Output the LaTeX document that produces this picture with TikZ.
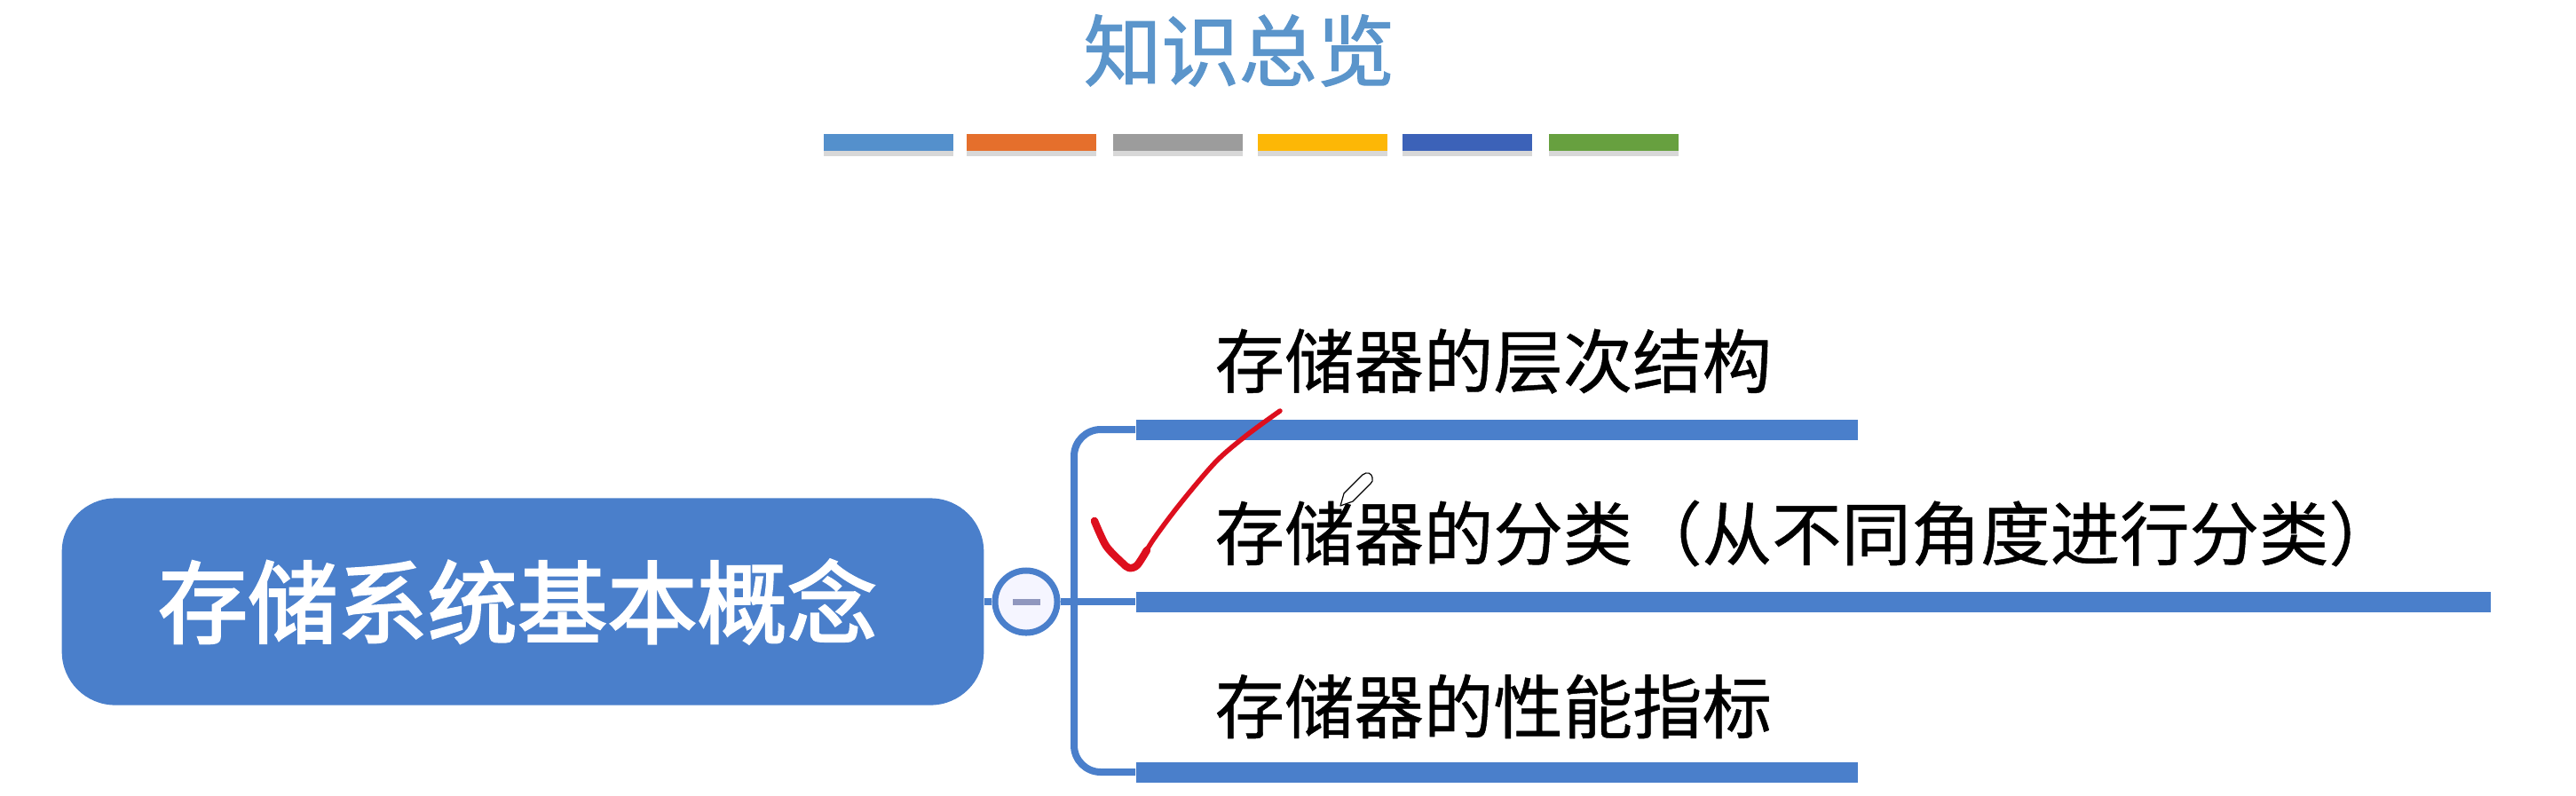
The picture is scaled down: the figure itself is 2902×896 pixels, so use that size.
\documentclass[tikz,border=0pt]{standalone}
\usepackage{fontspec}
\setmainfont{Noto Sans CJK SC}
\usetikzlibrary{shadows}
\definecolor{mapblue}{HTML}{4A7FCB}
\definecolor{titleblue}{HTML}{5B95CB}
\definecolor{swatchA}{HTML}{5490CC}
\definecolor{swatchB}{HTML}{E56F2C}
\definecolor{swatchC}{HTML}{9C9C9C}
\definecolor{swatchD}{HTML}{FDB706}
\definecolor{swatchE}{HTML}{3C62B8}
\definecolor{swatchF}{HTML}{67A03F}
\definecolor{minusgray}{HTML}{9097BE}
\definecolor{inkred}{HTML}{DD0F1E}
\tikzset{
  swatch/.style={rectangle,inner sep=0pt,minimum width=1.46cm,minimum height=0.19cm,anchor=west,
    drop shadow={shadow xshift=0cm,shadow yshift=-0.06cm,fill=black!30,opacity=.5}},
  branchbar/.style={rectangle,fill=mapblue,inner sep=0pt,minimum height=0.23cm,anchor=west},
  branchtext/.style={inner sep=0pt,anchor=west,font=\fontsize{22.3}{26}\selectfont\addfontfeature{FakeBold=0.6}},
  link/.style={mapblue,line width=0.08cm}
}
\begin{document}
\begin{tikzpicture}[x=0.01cm,y=-0.01cm]
    \useasboundingbox (0,0) rectangle (2902,896);
    % title and colour strip
    \node[text=titleblue,font=\fontsize{24.9}{28}\selectfont\addfontfeature{FakeBold=1.6}] (title) at (1396,57) {知识总览};
    \foreach \x/\c [count=\i] in {927/swatchA,1088/swatchB,1253/swatchC,1416/swatchD,1579/swatchE,1744/swatchF}
      \node[swatch,fill=\c] (strip\i) at (\x,160) {};
    % branches
    \node[branchbar,minimum width=8.13cm] (barTop) at (1279,484) {};
    \node[branchbar,minimum width=15.25cm] (barMid) at (1279,678) {};
    \node[branchbar,minimum width=8.13cm] (barLow) at (1279,870) {};
    \node[branchtext] (textTop) at (1368,407) {存储器的层次结构};
    \node[branchtext] (textMid) at (1368,601) {存储器的分类（从不同角度进行分类）};
    \node[branchtext] (textLow) at (1368,796) {存储器的性能指标};
    % root and toggle
    \node[rectangle,rounded corners=0.6cm,fill=mapblue,text=white,minimum width=10.38cm,minimum height=2.33cm,
      font=\fontsize{28.8}{32}\selectfont\addfontfeature{FakeBold=2.4}] (root) at (589,678) {存储系统基本概念\hspace*{0.12cm}};
    \coordinate (spine) at (1210,678);
    \node[circle,draw=mapblue,line width=0.07cm,fill=white!96!blue,minimum size=0.7cm,inner sep=0pt] (toggle) at (1156,678) {};
    \draw[link] (root) -- (toggle);
    \draw[link] (toggle) -- (barMid.west);
    \draw[link,rounded corners=0.3cm] (barTop.west) -- (spine |- barTop.west) -- (spine |- barLow.west) -- (barLow.west);
    \node[rectangle,fill=minusgray,inner sep=0pt,minimum width=0.31cm,minimum height=0.07cm] (minus) at (toggle) {};
    % red tick and pen cursor
    \draw[inkred,line width=0.055cm,line cap=round,line join=round] plot[smooth] coordinates
      {(1272,640) (1281,637) (1300,607) (1330,567) (1370,520) (1405,490) (1442,463)};
    \draw[inkred,line width=0.085cm,line cap=round,line join=round] plot[smooth] coordinates
      {(1233,587) (1246,615) (1264,634) (1272,640) (1281,637) (1292,620)};
    \draw[black,fill=white,line width=0.012cm,line join=round]
      (1510,570) -- (1514,556) -- (1535,535) .. controls (1540,531) and (1545,533) .. (1546,538)
      .. controls (1547,541) and (1546,543) .. (1544,545) -- (1524,565) -- cycle;
\end{tikzpicture}
\end{document}
